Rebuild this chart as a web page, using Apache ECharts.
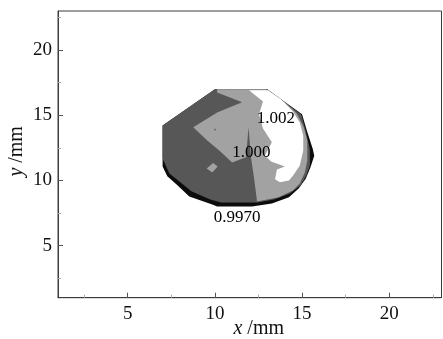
<!DOCTYPE html>
<html>
<head>
<meta charset="utf-8">
<script src="https://cdn.jsdelivr.net/npm/echarts@6/dist/echarts.min.js"></script>
<style>
  html, body { margin: 0; padding: 0; background: #fff; }
  #chart { width: 443px; height: 339px; }
</style>
</head>
<body>
<div id="chart"></div>
<script>
// Axis ranges and tick positions (mm)
const xRange = [1, 23];
const yRange = [1, 23];
const majorTicks = [5, 10, 15, 20];
const minorTicks = [2.5, 7.5, 12.5, 17.5, 22.5];

// Filled contour bands, drawn outer to inner; vertices are [x, y] in mm
const bandBelow0997 = [
  [10.0, 17.0], [13.0, 17.0], [15.0, 15.07], [15.27, 13.84], [15.62, 12.4],
  [15.7, 11.9], [15.5, 11.07], [15.22, 10.15], [14.82, 9.39], [14.25, 8.7],
  [13.27, 8.23], [12.13, 8.0], [10.13, 8.0], [9.85, 8.16], [8.53, 8.77],
  [7.85, 9.62], [7.27, 10.31], [7.0, 11.07], [7.0, 14.22]
];
const band0997 = [
  [10.0, 17.0], [13.0, 17.0], [14.95, 15.05], [15.2, 13.84], [15.45, 12.4],
  [15.45, 11.15], [15.25, 10.4], [14.93, 9.62], [14.3, 9.0], [13.39, 8.54],
  [12.42, 8.31], [10.36, 8.31], [9.73, 8.54], [8.65, 9.16], [8.02, 9.85],
  [7.39, 10.54], [7.0, 11.69], [7.0, 14.22]
];
const band1000 = [
  [10.13, 17.0], [12.93, 17.0], [14.02, 15.99], [14.70, 15.14], [15.10, 14.07],
  [15.30, 13.07], [15.30, 11.53], [15.16, 10.61], [14.87, 9.77], [14.47, 9.23],
  [13.67, 8.70], [12.42, 8.39], [12.25, 10.15], [12.07, 11.77], [11.93, 14.07],
  [11.79, 11.77], [10.99, 11.38], [10.25, 12.30], [9.56, 13.07], [8.76, 14.07],
  [10.13, 15.22], [11.56, 15.99], [10.13, 16.75]
];
const bandAbove1002 = [
  [11.96, 16.91], [13.05, 16.91], [13.79, 16.22], [14.47, 15.30], [14.87, 14.45],
  [15.07, 13.45], [15.07, 12.30], [14.87, 11.15], [14.53, 10.46], [14.25, 10.0],
  [13.73, 9.85], [13.45, 10.08], [13.56, 10.84], [14.02, 11.07], [13.22, 11.46],
  [12.87, 11.92], [13.27, 12.92], [12.76, 13.99], [12.53, 15.07], [12.76, 16.06]
];
const island1000 = [[9.53, 10.92], [9.90, 11.34], [10.16, 11.07], [9.85, 10.61]];
const pit0997 = [[9.96, 13.99], [10.08, 13.9], [10.0, 13.81]];

// Contour level labels
const labelText = ['0.9970', '1.000', '1.002'];
const labelX = [11.27, 12.10, 13.50];
const labelY = [7.16, 12.15, 14.72];

const bands = [bandBelow0997, band0997, band1000, bandAbove1002, island1000, pit0997];
const bandFill = ['#0c0c0c', '#575757', '#a2a2a2', '#ffffff', '#a2a2a2', '#575757'];

const serif = '"Liberation Serif", "Times New Roman", serif';

const chart = echarts.init(document.getElementById('chart'), null, { renderer: 'canvas' });

function valueAxis(range, extra) {
  return Object.assign({
    type: 'value',
    min: range[0],
    max: range[1],
    splitLine: { show: false }
  }, extra);
}

const option = {
  animation: false,
  backgroundColor: '#ffffff',
  grid: {
    left: 58, right: 1.5, top: 11, bottom: 41.3,
    outerBoundsMode: 'none',
    containLabel: false,
    show: true, borderColor: '#3c3c3c', borderWidth: 1, backgroundColor: 'transparent'
  },
  xAxis: [
    valueAxis(xRange, {
      position: 'bottom',
      axisLine: { show: true, lineStyle: { color: '#3c3c3c', width: 1 } },
      axisTick: { show: true, inside: true, length: 5, customValues: majorTicks, lineStyle: { color: '#555' } },
      axisLabel: { customValues: majorTicks, margin: 7, color: '#111', fontFamily: serif, fontSize: 19 },
      name: '{i|x} /mm',
      nameLocation: 'middle',
      nameGap: 21,
      nameMoveOverlap: false,
      nameTextStyle: {
        color: '#111', fontFamily: serif, fontSize: 20, padding: [0, 0, 0, 18],
        rich: { i: { fontStyle: 'italic', fontFamily: serif, fontSize: 20, color: '#111' } }
      }
    }),
    valueAxis(xRange, {
      position: 'bottom',
      axisLine: { show: false },
      axisTick: { show: true, inside: true, length: 3, customValues: minorTicks, lineStyle: { color: '#aaa' } },
      axisLabel: { show: false }
    })
  ],
  yAxis: [
    valueAxis(yRange, {
      position: 'left',
      axisLine: { show: true, lineStyle: { color: '#3c3c3c', width: 1 } },
      axisTick: { show: true, inside: true, length: 5, customValues: majorTicks, lineStyle: { color: '#555' } },
      axisLabel: { customValues: majorTicks, margin: 6, color: '#111', fontFamily: serif, fontSize: 19 },
      name: '{i|y} /mm',
      nameLocation: 'middle',
      nameGap: 31,
      nameMoveOverlap: false,
      nameRotate: 90,
      nameTextStyle: {
        color: '#111', fontFamily: serif, fontSize: 20, padding: [0, 0, 0, 6],
        rich: { i: { fontStyle: 'italic', fontFamily: serif, fontSize: 20, color: '#111' } }
      }
    }),
    valueAxis(yRange, {
      position: 'left',
      axisLine: { show: false },
      axisTick: { show: true, inside: true, length: 3, customValues: minorTicks, lineStyle: { color: '#aaa' } },
      axisLabel: { show: false }
    })
  ],
  series: [
    {
      type: 'custom',
      coordinateSystem: 'cartesian2d',
      xAxisIndex: 0, yAxisIndex: 0,
      silent: true,
      data: bands.map((b, i) => [b[0][0], b[0][1], i]),
      renderItem: function (params, api) {
        const i = api.value(2);
        const pts = bands[i].map(p => api.coord(p));
        return { type: 'polygon', shape: { points: pts }, style: { fill: bandFill[i], stroke: null } };
      }
    },
    {
      type: 'custom',
      coordinateSystem: 'cartesian2d',
      xAxisIndex: 0, yAxisIndex: 0,
      silent: true,
      z: 5,
      data: labelText.map((t, i) => [labelX[i], labelY[i], i]),
      renderItem: function (params, api) {
        const i = api.value(2);
        const c = api.coord([api.value(0), api.value(1)]);
        return {
          type: 'text', x: c[0], y: c[1],
          style: { text: labelText[i], fill: '#000', fontFamily: serif, fontSize: 17, align: 'center', verticalAlign: 'middle' }
        };
      }
    }
  ]
};

chart.setOption(option);
</script>
</body>
</html>
